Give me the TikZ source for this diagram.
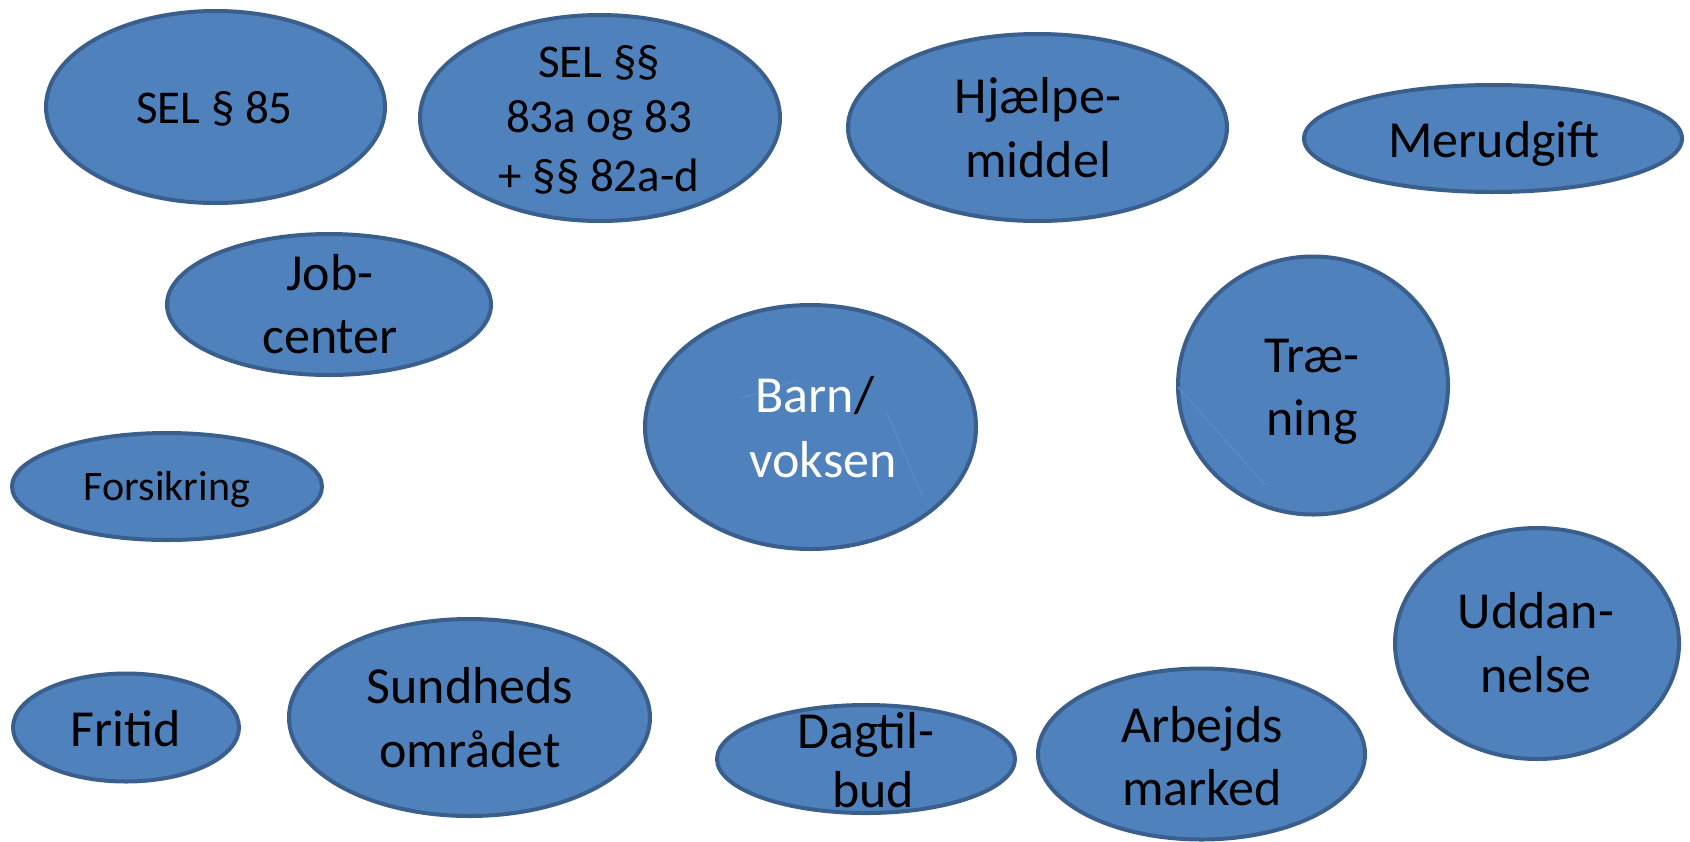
\documentclass[tikz,border=0pt]{standalone}
\usepackage{fontspec}
\setmainfont{Carlito}
\usetikzlibrary{shapes.geometric}
\definecolor{bfill}{HTML}{4F81BD}
\definecolor{bline}{HTML}{3A5F8D}
\definecolor{faint}{HTML}{5E8FCB}
\begin{document}
\begin{tikzpicture}[x=0.5pt,y=-0.5pt,
  blob/.style={ellipse, draw=bline, fill=bfill, line width=2pt, inner sep=0pt, outer sep=0pt},
  lbl/.style={anchor=base, inner sep=0pt, font=\fontsize{26}{30}\selectfont},
  sel/.style={anchor=base, inner sep=0pt, font=\fontsize{23.5}{28}\selectfont},
  small/.style={anchor=base, inner sep=0pt, font=\fontsize{21}{25}\selectfont},
  wht/.style={text=white},
  artefact/.style={draw=faint, line width=0.5pt}]
\useasboundingbox[fill=white] (0,0) rectangle (1690,841);
% ellipses (minimum width/height in pt = radius in px - 2)
\node[blob, minimum width=169.5pt, minimum height=96pt]   (sel85)  at (215.5,107) {};
\node[blob, minimum width=180pt,   minimum height=103pt]  (sel83)  at (600,118) {};
\node[blob, minimum width=189.5pt, minimum height=93.5pt] (hjaelp) at (1037.5,127.5) {};
\node[blob, minimum width=189pt,   minimum height=53.5pt] (merud)  at (1493,138.5) {};
\node[blob, minimum width=162pt,   minimum height=70.5pt] (job)    at (329,304.5) {};
\node[blob, minimum width=165.5pt, minimum height=122pt]  (barn)   at (810.5,427) {};
\node[blob, minimum width=135pt,   minimum height=129pt]  (traen)  at (1313,385.5) {};
\node[blob, minimum width=155pt,   minimum height=53.5pt] (fors)   at (167,486.5) {};
\node[blob, minimum width=142pt,   minimum height=115.5pt](udd)    at (1537,643.5) {};
\node[blob, minimum width=113pt,   minimum height=54pt]   (frit)   at (126,727.5) {};
\node[blob, minimum width=180.5pt, minimum height=98.5pt] (sund)   at (469.5,717.5) {};
\node[blob, minimum width=149pt,   minimum height=54pt]   (dag)    at (866,759) {};
\node[blob, minimum width=163.5pt, minimum height=85.5pt] (arb)    at (1201.5,754) {};
% faint artefact strokes
\draw[artefact] (887,413) -- (922,495);
\draw[artefact] (742,398) -- (798,380);
\draw[artefact] (1178,387) -- (1265,485);
% texts
\node[sel] (t1) at (214.5,123) {SEL § 85};
\node[sel] (t2a) at (599,77) {SEL §§};
\node[sel] (t2b) at (599,132) {83a og 83};
\node[sel] (t2c) at (599,191) {+ §§ 82a-d};
\node[lbl] (t3a) at (1038,113) {Hjælpe-};
\node[lbl] (t3b) at (1038,177) {middel};
\node[lbl] (t4) at (1494,157) {Merudgift};
\node[lbl] (t5a) at (330,290) {Job-};
\node[lbl] (t5b) at (330,353) {center};
\node[lbl] (t6a) at (815,412) {\textcolor{white}{Barn}/};
\node[lbl,wht] (t6b) at (823,477) {voksen};
\node[lbl] (t7a) at (1312,372) {Træ-};
\node[lbl] (t7b) at (1312,435) {ning};
\node[small] (t8) at (167,500) {Forsikring};
\node[lbl] (t9a) at (1536,628) {Uddan-};
\node[lbl] (t9b) at (1536,692) {nelse};
\node[lbl] (t10) at (126,746) {Fritid};
\node[lbl] (t11a) at (470,703) {Sundheds};
\node[lbl] (t11b) at (470,767) {området};
\node[lbl] (t12a) at (866,748) {Dagtil-};
\node[lbl] (t12b) at (873,807) {bud};
\node[lbl] (t13a) at (1202,742) {Arbejds};
\node[lbl] (t13b) at (1202,805) {marked};
\end{tikzpicture}
\end{document}
